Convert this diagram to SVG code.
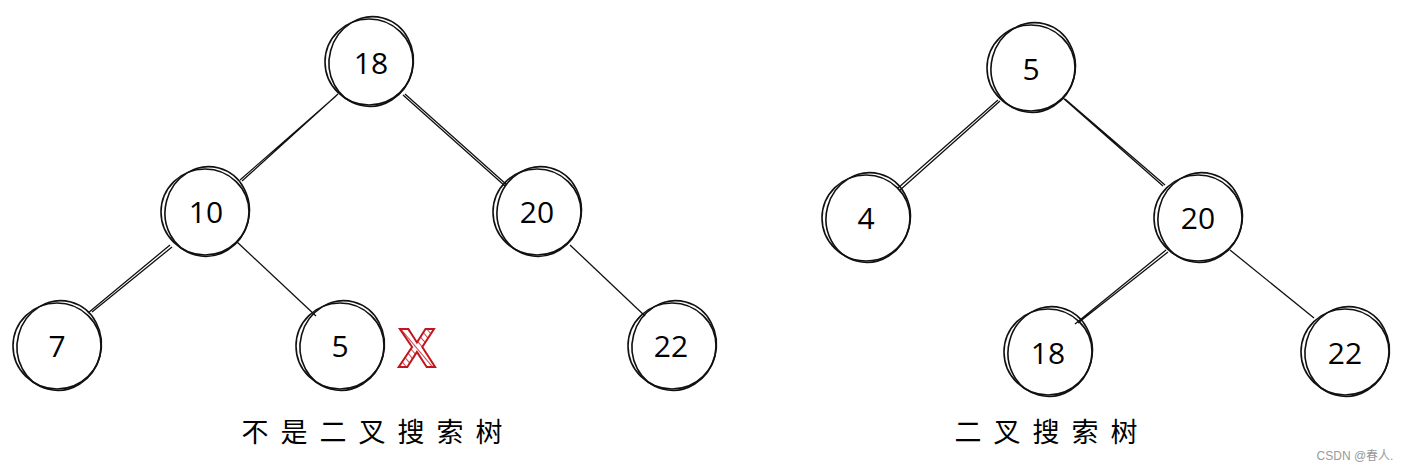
<svg xmlns="http://www.w3.org/2000/svg" width="1410" height="472" viewBox="0 0 1410 472">
<style>
.c{fill:none;stroke:#111;stroke-width:1.6}
.e{stroke:#111;stroke-width:1.3;fill:none}
.n{font-family:"Comic Sans MS","Open Sans","Liberation Sans",sans-serif;font-size:30px;fill:#000;text-anchor:middle;dominant-baseline:central}
.t{font-family:"Noto Sans CJK SC",sans-serif;font-size:27px;fill:#000;text-anchor:middle;letter-spacing:12px}
</style>
<defs>
<pattern id="h" patternUnits="userSpaceOnUse" width="5" height="5" patternTransform="rotate(-40)">
<line x1="0" y1="0" x2="0" y2="5" stroke="#c0161d" stroke-width="1.6"/>
</pattern>
<g id="circ">
<ellipse class="c" cx="0" cy="0" rx="44" ry="43"/>
<ellipse class="c" cx="2" cy="-1" rx="42" ry="45" transform="rotate(15)"/>
</g>
</defs>
<rect width="1410" height="472" fill="#fff"/>
<g id="connectors">
<path class="e" d="M336 96 L240 180 M338 94 L242 181"/>
<path class="e" d="M403 95 L505 186 M405 94 L507 185"/>
<path class="e" d="M170 245 L88 313 M172 247 L92 312"/>
<path class="e" d="M237 242 L316 316"/>
<path class="e" d="M570 245 L645 316"/>
<path class="e" d="M998 100 L898 188 M1000 101 L900 190"/>
<path class="e" d="M1063 98 L1163 186 M1065 99 L1165 185"/>
<path class="e" d="M1166 250 L1075 324 M1168 252 L1078 323"/>
<path class="e" d="M1230 250 L1314 318"/>
</g>
<g id="n18a"><use href="#circ" transform="translate(369,62)"/><text class="n" x="371" y="62">18</text></g>
<g id="n10a"><use href="#circ" transform="translate(205,212)"/><text class="n" x="206" y="211">10</text></g>
<g id="n20a"><use href="#circ" transform="translate(537,212)"/><text class="n" x="537" y="211">20</text></g>
<g id="n7a"><use href="#circ" transform="translate(57,346)"/><text class="n" x="57" y="345">7</text></g>
<g id="n5a"><use href="#circ" transform="translate(340,346)"/><text class="n" x="340" y="345">5</text></g>
<g id="n22a"><use href="#circ" transform="translate(672,346)"/><text class="n" x="671" y="345">22</text></g>
<g id="cross"><text x="417" y="367" font-family="Liberation Sans,sans-serif" font-weight="bold" font-size="56" text-anchor="middle" fill="url(#h)" stroke="#c0161d" stroke-width="2">X</text></g>
<g id="n5b"><use href="#circ" transform="translate(1031,68)"/><text class="n" x="1031" y="68">5</text></g>
<g id="n4b"><use href="#circ" transform="translate(866,218)"/><text class="n" x="866" y="217">4</text></g>
<g id="n20b"><use href="#circ" transform="translate(1198,218)"/><text class="n" x="1198" y="217">20</text></g>
<g id="n18b"><use href="#circ" transform="translate(1048,352)"/><text class="n" x="1048" y="352">18</text></g>
<g id="n22b"><use href="#circ" transform="translate(1345,352)"/><text class="n" x="1345" y="352">22</text></g>
<text class="t" x="378" y="442">不是二叉搜索树</text>
<text class="t" x="1052" y="442">二叉搜索树</text>
<text x="1355" y="460" font-family="Liberation Sans,Noto Sans CJK SC,sans-serif" font-size="12" fill="#999" text-anchor="middle">CSDN @春人.</text>
</svg>
